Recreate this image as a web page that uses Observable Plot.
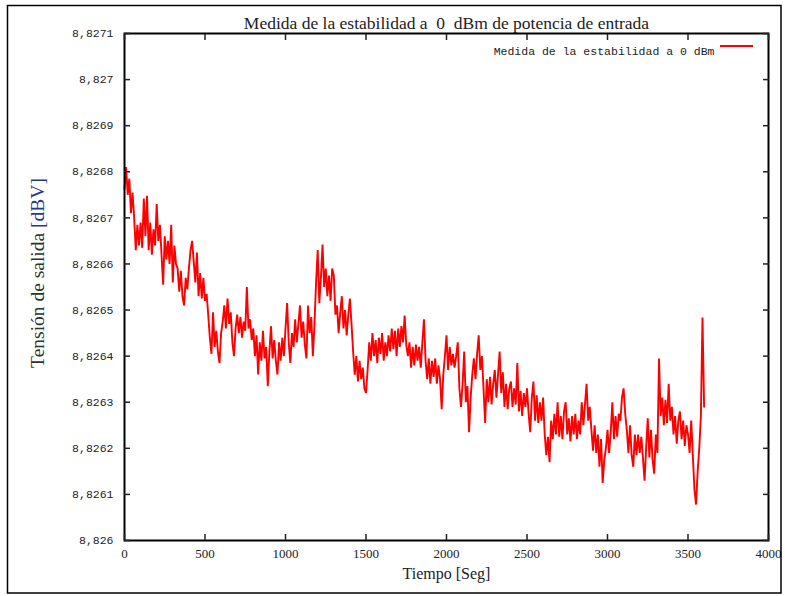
<!DOCTYPE html>
<html><head><meta charset="utf-8">
<script src="https://cdn.jsdelivr.net/npm/d3@7"></script>
<script src="https://cdn.jsdelivr.net/npm/@observablehq/plot@0.6"></script>
<style>body{margin:0;background:#fff} #chart svg{display:block}</style>
</head><body><div id="chart"></div>
<script>
const chartTitle = "Medida de la estabilidad a\u00A0 0\u00A0 dBm de potencia de entrada";
const xLabel = "Tiempo [Seg]";
const yLabelMain = "Tensión de salida ";
const yLabelUnit = "[dBV]";
const legendLabel = "Medida de la estabilidad a 0 dBm";
const xTicks = [0, 500, 1000, 1500, 2000, 2500, 3000, 3500, 4000];
const yTicks = [8.826, 8.8261, 8.8262, 8.8263, 8.8264, 8.8265, 8.8266, 8.8267, 8.8268, 8.8269, 8.827, 8.8271];
const sampleInterval = 10; // seconds between samples, starting at t = 0
const tension = [
8.826762, 8.82681, 8.82675, 8.826785, 8.82671, 8.826755, 8.8267, 8.82663, 8.826685, 8.82664,
8.82669, 8.826635, 8.826742, 8.82666, 8.826748, 8.82663, 8.82669, 8.82662, 8.826675, 8.82664,
8.82673, 8.82665, 8.826685, 8.82662, 8.826555, 8.82666, 8.82661, 8.82665, 8.8266, 8.826685,
8.82656, 8.82664, 8.8266, 8.82659, 8.82654, 8.826585, 8.82653, 8.82651, 8.82657, 8.826545,
8.82659, 8.82663, 8.82665, 8.826605, 8.82656, 8.826625, 8.82653, 8.82658, 8.826525, 8.82657,
8.82652, 8.826535, 8.82649, 8.82644, 8.826405, 8.826495, 8.82642, 8.826455, 8.82641, 8.826385,
8.82645, 8.826475, 8.82651, 8.82646, 8.826525, 8.82647, 8.826495, 8.82643, 8.8264, 8.82646,
8.82649, 8.82645, 8.826485, 8.82644, 8.826475, 8.826455, 8.82655, 8.82646, 8.82648, 8.826435,
8.82646, 8.8264, 8.826445, 8.82636, 8.82643, 8.82639, 8.826455, 8.826395, 8.82642, 8.826335,
8.82641, 8.826465, 8.826395, 8.826435, 8.82639, 8.82636, 8.82643, 8.82639, 8.82644, 8.8264,
8.82646, 8.826515, 8.82643, 8.826385, 8.82645, 8.82642, 8.82648, 8.82643, 8.82647, 8.82651,
8.82644, 8.826475, 8.826425, 8.826395, 8.82651, 8.82645, 8.826485, 8.8264, 8.82647, 8.82656,
8.82663, 8.826515, 8.82657, 8.826642, 8.82655, 8.82659, 8.82653, 8.826575, 8.82652, 8.82659,
8.826575, 8.82649, 8.82651, 8.82645, 8.826495, 8.82653, 8.82646, 8.8265, 8.826445, 8.82649,
8.826525, 8.82647, 8.82641, 8.82636, 8.8264, 8.826345, 8.82639, 8.82635, 8.826375, 8.82633,
8.82632, 8.82637, 8.82643, 8.82639, 8.82645, 8.8264, 8.826435, 8.826385, 8.82644, 8.826405,
8.82645, 8.82639, 8.82643, 8.8264, 8.826445, 8.82641, 8.82646, 8.826415, 8.826455, 8.8264,
8.82646, 8.82642, 8.826465, 8.82643, 8.826488, 8.826425, 8.8264, 8.82643, 8.826375, 8.82642,
8.82638, 8.826425, 8.82639, 8.82642, 8.826375, 8.82643, 8.82648, 8.82639, 8.82635, 8.826395,
8.82634, 8.82639, 8.826355, 8.826395, 8.82634, 8.82638, 8.82635, 8.826285, 8.82636, 8.8264,
8.826445, 8.82637, 8.82642, 8.82638, 8.826405, 8.826375, 8.8264, 8.82643, 8.82633, 8.82629,
8.82634, 8.82641, 8.8263, 8.826335, 8.826235, 8.82631, 8.82636, 8.826395, 8.82635, 8.826405,
8.826445, 8.82637, 8.8264, 8.82633, 8.826255, 8.82635, 8.8263, 8.826355, 8.826295, 8.82634,
8.82637, 8.82631, 8.82636, 8.82641, 8.82632, 8.826365, 8.82629, 8.82634, 8.826285, 8.82633,
8.826345, 8.82629, 8.82633, 8.826295, 8.826385, 8.82628, 8.826325, 8.82627, 8.82632, 8.82629,
8.82633, 8.826275, 8.826235, 8.82631, 8.826345, 8.82626, 8.826315, 8.826255, 8.8263, 8.82626,
8.82631, 8.82623, 8.826185, 8.826225, 8.82617, 8.82626, 8.82622, 8.826275, 8.82623, 8.8263,
8.826225, 8.82627, 8.82622, 8.82628, 8.8263, 8.82623, 8.826265, 8.826215, 8.82627, 8.82623,
8.826275, 8.82622, 8.82626, 8.82623, 8.8263, 8.82625, 8.826295, 8.82634, 8.82626, 8.82629,
8.82624, 8.826195, 8.82625, 8.82619, 8.82623, 8.82616, 8.82622, 8.826125, 8.826175, 8.8262,
8.82624, 8.82619, 8.826235, 8.8263, 8.82622, 8.82627, 8.826225, 8.826275, 8.82626, 8.82631,
8.82633, 8.826275, 8.82624, 8.82619, 8.82625, 8.826185, 8.82616, 8.82623, 8.826185, 8.82623,
8.82619, 8.826225, 8.82618, 8.82613, 8.8262, 8.826265, 8.82618, 8.82624, 8.826175, 8.826145,
8.82623, 8.82619, 8.826395, 8.82627, 8.82631, 8.82625, 8.826305, 8.826255, 8.82634, 8.82626,
8.82629, 8.82623, 8.82627, 8.82621, 8.82626, 8.82628, 8.82622, 8.82626, 8.826205, 8.82625,
8.82623, 8.82619, 8.82626, 8.826185, 8.82611, 8.826078, 8.82615, 8.8262, 8.82627, 8.826484, 8.82629
];

const data = tension.map((v, i) => ({t: i * sampleInterval, v}));
const fmtY = d => d3.format(".4~f")(d).replace(".", ",");
const fmtX = d => String(d);
const serif = "'Liberation Serif', 'Times New Roman', serif";
const mono = "'Liberation Mono', 'DejaVu Sans Mono', monospace";
const noLabel = () => "";
const tk = 6;

const plot = Plot.plot({
  width: 785, height: 596,
  marginLeft: 124, marginRight: 17, marginTop: 33, marginBottom: 56,
  style: {fontFamily: serif, background: "#fff", color: "#222"},
  x: {domain: [0, 4000]},
  y: {domain: [8.826, 8.8271]},
  marks: [
    Plot.line(data, {x: "t", y: "v", stroke: "#ff0000", strokeWidth: 1.9, strokeLinejoin: "miter"}),
    Plot.frame({stroke: "#000", strokeWidth: 2}),
    Plot.axisX(xTicks, {anchor: "bottom", tickSize: 0, tickPadding: 8, tickFormat: fmtX, fontSize: 13, label: null}),
    Plot.axisX(xTicks, {anchor: "bottom", tickSize: tk, dy: -tk, tickFormat: noLabel, label: null, strokeWidth: 1.5}),
    Plot.axisX(xTicks, {anchor: "top", tickSize: tk, dy: tk, tickFormat: noLabel, label: null, strokeWidth: 1.5}),
    Plot.axisY(yTicks, {anchor: "left", tickSize: 0, tickPadding: 11, tickFormat: fmtY, fontFamily: mono, fontSize: 11.5, label: null}),
    Plot.axisY(yTicks, {anchor: "left", tickSize: tk, dx: tk, tickFormat: noLabel, label: null, strokeWidth: 1.5}),
    Plot.axisY(yTicks, {anchor: "right", tickSize: tk, dx: -tk, tickFormat: noLabel, label: null, strokeWidth: 1.5}),
    Plot.text([chartTitle], {text: d => d, frameAnchor: "top", dy: -17, fontSize: 17.5, fill: "#222", fontFamily: serif}),
    Plot.text([xLabel], {text: d => d, frameAnchor: "bottom", dy: 38, fontSize: 16, fill: "#222", fontFamily: serif}),
    Plot.text([legendLabel], {text: d => d, frameAnchor: "top-right", dx: -54, dy: 13, textAnchor: "end", fontSize: 11.5, fill: "#222", fontFamily: mono})
  ]
});

const svg = d3.select(plot);
// legend swatch
svg.append("line").attr("x1", 720).attr("x2", 753).attr("y1", 46).attr("y2", 46)
  .attr("stroke", "#ff0000").attr("stroke-width", 1.8);
// y axis title
const yl = svg.append("text")
  .attr("transform", "translate(37,273) rotate(-90)")
  .attr("text-anchor", "middle").attr("dy", "0.35em")
  .attr("font-family", serif).attr("font-size", 19.5);
yl.append("tspan").attr("fill", "#2a3328").text(yLabelMain);
yl.append("tspan").attr("fill", "#1f3a8a").text(yLabelUnit);
// outer border
svg.append("rect").attr("x", 7.5).attr("y", 5.5).attr("width", 773.5).attr("height", 587.5)
  .attr("fill", "none").attr("stroke", "#000").attr("stroke-width", 1.5);

document.getElementById("chart").appendChild(plot);
</script>
</body></html>
